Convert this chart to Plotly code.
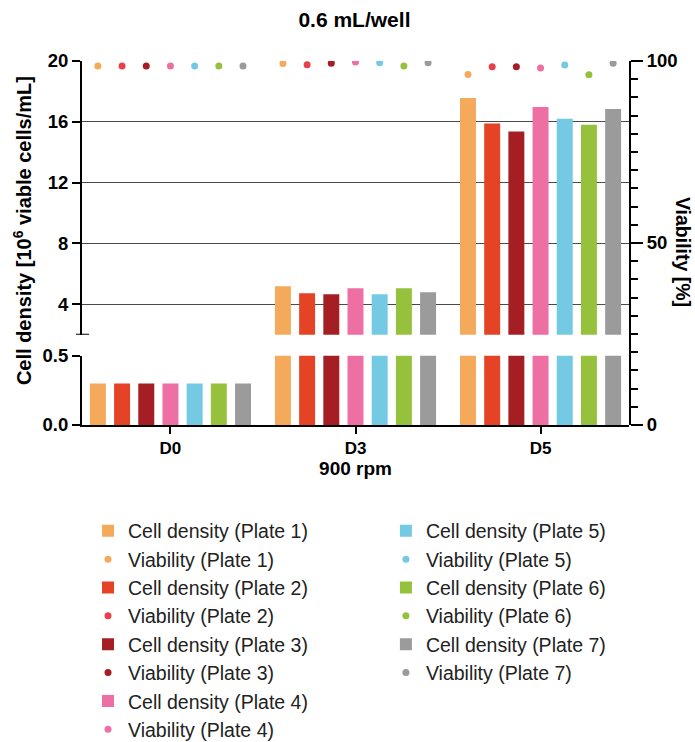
import plotly.graph_objects as go

categories = ["D0", "D3", "D5"]
plates = ["Plate 1", "Plate 2", "Plate 3", "Plate 4", "Plate 5", "Plate 6", "Plate 7"]

density_plate1 = [0.3, 5.18, 17.57]
density_plate2 = [0.3, 4.72, 15.89]
density_plate3 = [0.3, 4.66, 15.36]
density_plate4 = [0.3, 5.05, 16.98]
density_plate5 = [0.3, 4.66, 16.20]
density_plate6 = [0.3, 5.05, 15.80]
density_plate7 = [0.3, 4.79, 16.85]

viability_plate1 = [98.6, 99.3, 96.3]
viability_plate2 = [98.6, 99.0, 98.4]
viability_plate3 = [98.6, 99.4, 98.4]
viability_plate4 = [98.6, 99.7, 98.1]
viability_plate5 = [98.6, 99.5, 98.9]
viability_plate6 = [98.6, 98.6, 96.2]
viability_plate7 = [98.6, 99.5, 99.4]

bar_colors = ["#F5AA5B", "#E54326", "#A51E24", "#EE6FA3", "#74C9E3", "#96C13D", "#9B9B9B"]
dot_colors = ["#F5AA5B", "#E8404A", "#A51E24", "#EE6FA3", "#74C9E3", "#96C13D", "#9B9B9B"]

densities = [density_plate1, density_plate2, density_plate3, density_plate4,
             density_plate5, density_plate6, density_plate7]
viabilities = [viability_plate1, viability_plate2, viability_plate3, viability_plate4,
               viability_plate5, viability_plate6, viability_plate7]

FONT = "Liberation Sans, Arial, sans-serif"
fig = go.Figure()

for i, plate in enumerate(plates):
    leg = "legend" if i < 4 else "legend2"
    fig.add_trace(go.Bar(
        x=categories, y=densities[i], name=f"Cell density ({plate})",
        marker=dict(color=bar_colors[i], line=dict(width=0)),
        offsetgroup=str(i), legendgroup=plate, legend=leg,
        xaxis="x", yaxis="y"))
    fig.add_trace(go.Bar(
        x=categories, y=densities[i], name=f"Cell density ({plate})",
        marker=dict(color=bar_colors[i], line=dict(width=0)),
        offsetgroup=str(i), legendgroup=plate, showlegend=False,
        xaxis="x", yaxis="y2"))
    fig.add_trace(go.Scatter(
        x=categories, y=viabilities[i], name=f"Viability ({plate})",
        mode="markers", marker=dict(color=dot_colors[i], size=7),
        offsetgroup=str(i), legendgroup=plate, legend=leg,
        xaxis="x", yaxis="y3"))

tick_font = dict(family=FONT, size=18.5, color="black", weight="bold")
axis_common = dict(showline=True, linecolor="black", linewidth=2,
                   ticks="outside", ticklen=8, tickwidth=2, tickcolor="black",
                   tickfont=tick_font, zeroline=False)

fig.update_layout(
    width=695, height=742,
    margin=dict(l=82, r=66, t=61, b=317, autoexpand=False),
    paper_bgcolor="white", plot_bgcolor="rgba(0,0,0,0)",
    barmode="group", bargap=0.085, bargroupgap=0.34,
    scattermode="group", scattergap=0.085,
    font=dict(family=FONT, color="black"),
    title=dict(text="<b>0.6 mL/well</b>", x=0.51, xanchor="center", y=0.973, yanchor="middle",
               font=dict(family=FONT, size=21, color="black")),
    xaxis=dict(domain=[0, 1], anchor="y2", range=[-0.478, 2.478],
               showline=True, linecolor="black", linewidth=2,
               ticks="outside", ticklen=7, tickwidth=2, tickcolor="black",
               tickfont=dict(family=FONT, size=17, color="black", weight="bold"),
               title=dict(text="<b>900 rpm</b>", font=dict(family=FONT, size=19, color="black"), standoff=4)),
    yaxis=dict(domain=[0.248, 1], anchor="x", range=[2, 20],
               tickvals=[4, 8, 12, 16, 20],
               showgrid=True, gridcolor="#4a4a4a", gridwidth=1.2, **axis_common),
    yaxis2=dict(domain=[0, 0.19], anchor="x", range=[0, 0.5],
                tickvals=[0, 0.5], ticktext=["0.0", "0.5"],
                showgrid=True, gridcolor="#4a4a4a", gridwidth=1.2, **axis_common),
    yaxis3=dict(domain=[0, 1], anchor="x", side="right", range=[0, 100],
                tickvals=[0, 50, 100], showgrid=False,
                showline=True, linecolor="black", linewidth=2,
                ticks="outside", ticklen=12, tickwidth=2, tickcolor="black",
                minor=dict(dtick=5, ticks="outside", ticklen=7, tickwidth=2, tickcolor="black", showgrid=False),
                tickfont=tick_font, zeroline=False),
    legend=dict(x=0.011, y=-0.238, xanchor="left", yanchor="top",
                font=dict(family=FONT, size=19.5, color="#222222"),
                tracegroupgap=0, bgcolor="rgba(0,0,0,0)", itemwidth=30),
    legend2=dict(x=0.5556, y=-0.238, xanchor="left", yanchor="top",
                 font=dict(family=FONT, size=19.5, color="#222222"),
                 tracegroupgap=0, bgcolor="rgba(0,0,0,0)", itemwidth=30),
    annotations=[
        dict(text="<b>Cell density [10<sup>6</sup> viable cells/mL]</b>",
             xref="paper", yref="paper", x=-0.11, y=0.535, textangle=-90,
             showarrow=False, xanchor="center", yanchor="middle",
             font=dict(family=FONT, size=20, color="black")),
        dict(text="<b>Viability [%]</b>",
             xref="paper", yref="paper", x=1.099, y=0.475, textangle=90,
             showarrow=False, xanchor="center", yanchor="middle",
             font=dict(family=FONT, size=19.5, color="black")),
    ],
    shapes=[dict(type="line", xref="paper", yref="y", x0=-0.011, x1=0.013, y0=2, y1=2,
                 line=dict(color="black", width=2))],
)

fig.write_html("out.html", config={"displayModeBar": False},
               post_script="document.body.style.margin='0';")
